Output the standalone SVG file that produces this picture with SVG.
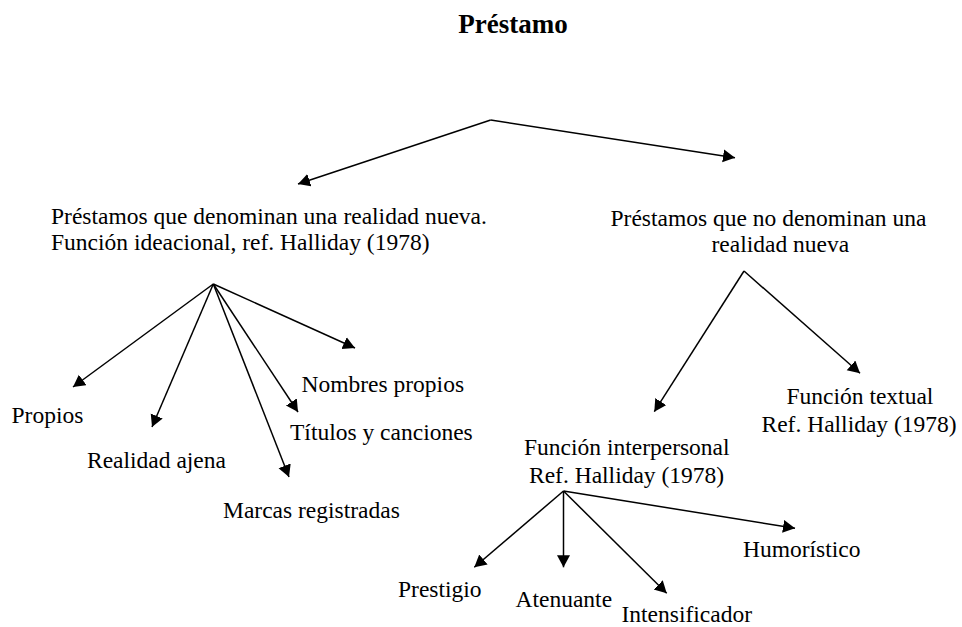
<svg xmlns="http://www.w3.org/2000/svg" width="962" height="627" viewBox="0 0 962 627">
<style>
text{font-family:"Liberation Serif","Times New Roman",serif;font-size:23.5px;fill:#000}
.title{font-size:27px;font-weight:bold}
.c line{stroke:#000;stroke-width:1.5;fill:none}
</style>
<defs>
<marker id="ah" markerUnits="userSpaceOnUse" markerWidth="14" markerHeight="14" refX="12" refY="6.5" orient="auto" viewBox="0 0 14 14">
<path d="M0,0 L12,6.5 L0,13 z" fill="#000"/>
</marker>
</defs>
<rect width="962" height="627" fill="#fff"/>
<g id="title"><text class="title" x="513" y="33" text-anchor="middle">Préstamo</text></g>
<g class="c" id="connectors" marker-end="url(#ah)">
<line x1="490.7" y1="120" x2="298" y2="184" marker-end="url(#ah)"/>
<line x1="490.7" y1="120" x2="735" y2="157.7" marker-end="url(#ah)"/>
<line x1="213.3" y1="284" x2="73" y2="387" marker-end="url(#ah)"/>
<line x1="213.3" y1="284" x2="152" y2="427" marker-end="url(#ah)"/>
<line x1="213.3" y1="284" x2="289" y2="477" marker-end="url(#ah)"/>
<line x1="213.3" y1="284" x2="298" y2="412" marker-end="url(#ah)"/>
<line x1="213.3" y1="284" x2="355" y2="348" marker-end="url(#ah)"/>
<line x1="744" y1="271" x2="654.3" y2="411.7" marker-end="url(#ah)"/>
<line x1="744" y1="271" x2="860" y2="373.3" marker-end="url(#ah)"/>
<line x1="563.5" y1="491" x2="474.3" y2="567.3" marker-end="url(#ah)"/>
<line x1="563.5" y1="491" x2="563.5" y2="567.3" marker-end="url(#ah)"/>
<line x1="563.5" y1="491" x2="666.7" y2="593.3" marker-end="url(#ah)"/>
<line x1="563.5" y1="491" x2="795" y2="528.3" marker-end="url(#ah)"/>
</g>
<g id="n-denominan"><text x="51" y="224">Préstamos que denominan una realidad nueva.</text><text x="51" y="250">Función ideacional, ref. Halliday (1978)</text></g>
<g id="n-no-denominan"><text x="610.5" y="225.5">Préstamos que no denominan una</text><text x="711.5" y="251.5">realidad nueva</text></g>
<g id="n-propios"><text x="11.5" y="423">Propios</text></g>
<g id="n-realidad-ajena"><text x="87" y="468">Realidad ajena</text></g>
<g id="n-marcas"><text x="223" y="518">Marcas registradas</text></g>
<g id="n-titulos"><text x="290" y="440">Títulos y canciones</text></g>
<g id="n-nombres"><text x="301.5" y="391.5">Nombres propios</text></g>
<g id="n-textual"><text x="786.5" y="404">Función textual</text><text x="761.5" y="431.5">Ref. Halliday (1978)</text></g>
<g id="n-interpersonal"><text x="524" y="455">Función interpersonal</text><text x="529" y="482.5">Ref. Halliday (1978)</text></g>
<g id="n-prestigio"><text x="398" y="596.5">Prestigio</text></g>
<g id="n-atenuante"><text x="515.5" y="606.5">Atenuante</text></g>
<g id="n-intensificador"><text x="621.5" y="621.5">Intensificador</text></g>
<g id="n-humoristico"><text x="743" y="556.5">Humorístico</text></g>
</svg>
